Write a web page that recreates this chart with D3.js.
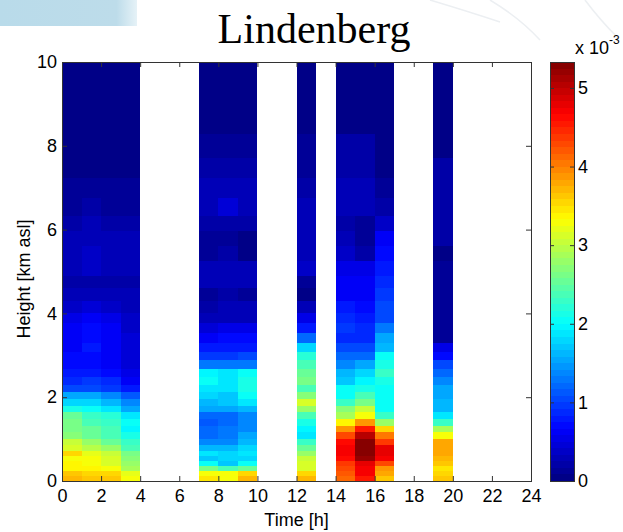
<!DOCTYPE html>
<html>
<head>
<meta charset="utf-8">
<script src="https://cdn.jsdelivr.net/npm/d3@7"></script>
<style>
  body { margin: 0; background: #fff; }
  svg { display: block; }
</style>
</head>
<body>
<div class="svg-container"></div>
<script>
// hour bins that have data (each 1 h wide)
const hours = [0, 1, 2, 3, 7, 8, 9, 12, 14, 15, 16, 19];

// height bin edges [km asl]
const levels = [0, 0.12, 0.24, 0.36, 0.48, 0.6, 0.72, 0.86, 1.0, 1.16,
  1.32, 1.48, 1.64, 1.8, 1.96, 2.12, 2.3, 2.48, 2.68, 2.88,
  3.08, 3.3, 3.54, 3.78, 4.02, 4.3, 4.6, 4.9, 5.25, 5.6,
  5.96, 6.32, 6.76, 7.22, 7.72, 8.28, 8.86, 9.44, 10];

// profiles, bottom to top, units of 1e-3
const h00 = [3.7, 3.6, 3.4, 3.35, 3.3, 3.55, 3.1, 3.0, 2.7, 2.6, 2.65, 2.5, 2.1, 1.8, 1.5, 1.0, 0.9, 0.75, 0.7, 0.68, 0.65, 0.62, 0.6, 0.5, 0.4, 0.25, 0.2, 0.32, 0.3, 0.28, 0.2, 0.15, 0.1, 0.05, 0.05, 0.05, 0.05, 0.05];
const h01 = [3.65, 3.55, 3.4, 3.25, 3.3, 3.2, 2.95, 2.8, 2.55, 2.5, 2.4, 2.3, 2.0, 1.75, 1.5, 1.05, 0.95, 0.8, 0.72, 0.7, 0.8, 0.72, 0.7, 0.6, 0.45, 0.25, 0.2, 0.35, 0.36, 0.3, 0.25, 0.18, 0.1, 0.05, 0.05, 0.05, 0.05, 0.05];
const h02 = [3.6, 3.5, 3.3, 3.15, 3.1, 3.0, 2.75, 2.55, 2.4, 2.35, 2.3, 2.2, 1.85, 1.65, 1.4, 0.95, 0.85, 0.7, 0.6, 0.6, 0.65, 0.6, 0.6, 0.5, 0.4, 0.25, 0.2, 0.32, 0.3, 0.28, 0.2, 0.15, 0.1, 0.05, 0.05, 0.05, 0.05, 0.05];
const h03 = [3.3, 3.2, 2.9, 2.8, 2.7, 2.6, 2.4, 2.3, 2.1, 1.95, 2.05, 1.9, 1.55, 1.35, 1.1, 0.75, 0.65, 0.5, 0.45, 0.45, 0.45, 0.42, 0.4, 0.35, 0.3, 0.25, 0.2, 0.3, 0.3, 0.28, 0.2, 0.15, 0.1, 0.05, 0.05, 0.05, 0.05, 0.05];
const h07 = [3.45, 3.3, 2.6, 2.0, 1.7, 1.85, 1.6, 1.4, 1.2, 1.2, 1.15, 1.2, 1.5, 1.6, 1.75, 1.9, 2.0, 1.95, 1.25, 0.95, 0.75, 0.65, 0.45, 0.25, 0.2, 0.12, 0.3, 0.3, 0.12, 0.12, 0.2, 0.33, 0.3, 0.22, 0.12, 0.05, 0.05, 0.05];
const h08 = [3.3, 3.3, 2.4, 1.7, 1.75, 1.8, 1.65, 1.4, 1.25, 1.25, 1.2, 1.2, 1.5, 1.7, 1.7, 1.85, 1.85, 1.85, 1.25, 0.95, 0.75, 0.7, 0.55, 0.25, 0.25, 0.2, 0.3, 0.3, 0.2, 0.15, 0.2, 0.42, 0.3, 0.22, 0.12, 0.05, 0.05, 0.05];
const h09 = [3.7, 3.5, 2.5, 2.0, 1.8, 1.9, 1.8, 1.6, 1.5, 1.35, 1.4, 1.4, 1.65, 1.85, 2.0, 2.1, 2.1, 2.05, 1.3, 1.0, 0.75, 0.7, 0.55, 0.25, 0.25, 0.12, 0.3, 0.25, 0.08, 0.05, 0.2, 0.33, 0.3, 0.22, 0.12, 0.05, 0.05, 0.05];
const h12 = [3.7, 3.5, 3.1, 3.1, 3.0, 2.75, 2.55, 2.3, 1.9, 1.95, 2.1, 2.35, 2.75, 3.1, 2.7, 2.35, 2.65, 2.5, 2.35, 2.2, 1.8, 1.2, 0.75, 0.5, 0.3, 0.08, 0.1, 0.35, 0.33, 0.3, 0.28, 0.25, 0.2, 0.15, 0.1, 0.05, 0.05, 0.05];
const h14 = [4.15, 4.2, 4.25, 4.4, 4.6, 4.7, 4.7, 4.65, 4.3, 3.9, 3.4, 2.9, 2.7, 2.3, 2.05, 2.0, 1.7, 1.6, 1.4, 1.2, 1.05, 0.9, 0.95, 0.85, 0.75, 0.65, 0.6, 0.5, 0.35, 0.25, 0.22, 0.3, 0.28, 0.2, 0.18, 0.05, 0.05, 0.05];
const h15 = [4.55, 4.7, 4.7, 4.8, 5.2, 5.3, 5.35, 5.3, 5.0, 4.5, 3.9, 3.25, 3.0, 2.6, 2.35, 2.15, 1.95, 1.75, 1.55, 1.2, 1.05, 0.85, 0.9, 0.8, 0.7, 0.65, 0.6, 0.5, 0.22, 0.15, 0.1, 0.3, 0.28, 0.2, 0.18, 0.05, 0.05, 0.05];
const h16 = [3.6, 3.8, 3.9, 4.3, 4.7, 4.75, 4.75, 4.4, 4.0, 3.5, 2.8, 2.3, 2.05, 2.0, 2.0, 2.0, 2.1, 2.3, 2.1, 2.0, 1.65, 1.55, 1.25, 1.05, 1.0, 0.95, 0.9, 0.8, 0.7, 0.6, 0.4, 0.2, 0.12, 0.08, 0.08, 0.05, 0.05, 0.05];
const h19 = [3.65, 3.5, 3.45, 3.6, 3.7, 3.75, 3.75, 3.75, 3.3, 2.9, 2.3, 1.9, 1.6, 1.65, 1.5, 1.5, 1.35, 1.2, 1.0, 0.7, 0.5, 0.15, 0.1, 0.12, 0.1, 0.12, 0.1, 0.1, 0.08, 0.18, 0.18, 0.18, 0.18, 0.18, 0.05, 0.05, 0.05, 0.05];
const profiles = [h00, h01, h02, h03, h07, h08, h09, h12, h14, h15, h16, h19];

const xTicks = [0, 2, 4, 6, 8, 10, 12, 14, 16, 18, 20, 22, 24];
const yTicks = [0, 2, 4, 6, 8, 10];
const cTicks = [0, 1, 2, 3, 4, 5];
const cMax = 5.33;
const nColors = 64;

const font = "'Liberation Sans', Arial, sans-serif";

const x = d3.scaleLinear([0, 24], [62, 531]);
const y = d3.scaleLinear([0, 10], [481, 62]);
const cy = d3.scaleLinear([0, cMax], [481, 62]);

// matlab jet
function jet(t) {
  const f = (v) => Math.max(0, Math.min(1, v));
  const r = f(1.5 - Math.abs(4 * t - 3));
  const g = f(1.5 - Math.abs(4 * t - 2));
  const b = f(1.5 - Math.abs(4 * t - 1));
  return d3.rgb(r * 255, g * 255, b * 255).formatHex();
}
const colorIndex = (v) => Math.max(0, Math.min(nColors - 1, Math.floor((v / cMax) * nColors)));
const colorOf = (v) => jet((colorIndex(v) + 0.5) / nColors);

const svg = d3.select("div.svg-container")
  .append("svg")
  .attr("width", 623)
  .attr("height", 532)
  .style("background-color", "#fff");

// slide decoration behind the figure
const defs = svg.append("defs");
const grad = defs.append("linearGradient").attr("id", "band");
grad.append("stop").attr("offset", "0%").attr("stop-color", "#b9dbea");
grad.append("stop").attr("offset", "85%").attr("stop-color", "#bddcea");
grad.append("stop").attr("offset", "100%").attr("stop-color", "#e6f2f7");
svg.append("rect")
  .attr("x", 0).attr("y", 0)
  .attr("width", 137).attr("height", 26)
  .attr("fill", "url(#band)");
svg.append("g")
  .attr("fill", "none")
  .attr("stroke", "#eceff2")
  .attr("stroke-width", 1.5)
  .selectAll("path")
  .data(["M490,0 Q520,18 540,40", "M585,0 Q600,20 618,38", "M430,0 Q470,12 500,22"])
  .join("path")
  .attr("d", (d) => d);

svg.append("text")
  .attr("x", 314)
  .attr("y", 43)
  .attr("text-anchor", "middle")
  .attr("font-family", "'Liberation Serif', 'Times New Roman', serif")
  .attr("font-size", 42)
  .text("Lindenberg");

// heat map cells
const cells = [];
hours.forEach((h, i) => {
  profiles[i].forEach((v, j) => {
    cells.push({ h, lo: levels[j], hi: levels[j + 1], v });
  });
});

svg.append("g")
  .attr("shape-rendering", "crispEdges")
  .selectAll("rect")
  .data(cells)
  .join("rect")
  .attr("x", (d) => x(d.h))
  .attr("width", (d) => x(d.h + 1) - x(d.h))
  .attr("y", (d) => y(d.hi))
  .attr("height", (d) => y(d.lo) - y(d.hi))
  .attr("fill", (d) => colorOf(d.v));

// axes
const styleAxis = (g) => {
  g.select(".domain").remove();
  g.selectAll("line").attr("stroke", "#333");
  g.selectAll("text").attr("font-family", font).attr("font-size", 18).attr("fill", "#000");
};

svg.append("g")
  .attr("transform", "translate(0,481)")
  .call(d3.axisBottom(x).tickValues(xTicks).tickSize(-5).tickPadding(8).tickFormat(d3.format("d")))
  .call(styleAxis);
svg.append("g")
  .attr("transform", "translate(0,62)")
  .call(d3.axisTop(x).tickValues(xTicks).tickSize(-5).tickFormat(""))
  .call(styleAxis);
svg.append("g")
  .attr("transform", "translate(62,0)")
  .call(d3.axisLeft(y).tickValues(yTicks).tickSize(-5).tickPadding(5).tickFormat(d3.format("d")))
  .call(styleAxis);
svg.append("g")
  .attr("transform", "translate(531,0)")
  .call(d3.axisRight(y).tickValues(yTicks).tickSize(-5).tickFormat(""))
  .call(styleAxis);

svg.append("rect")
  .attr("x", 62).attr("y", 62)
  .attr("width", 531 - 62).attr("height", 481 - 62)
  .attr("fill", "none")
  .attr("stroke", "#333")
  .attr("shape-rendering", "crispEdges");

svg.append("text")
  .attr("x", (62 + 531) / 2)
  .attr("y", 526)
  .attr("text-anchor", "middle")
  .attr("font-family", font)
  .attr("font-size", 18)
  .text("Time [h]");

svg.append("text")
  .attr("transform", "translate(30,279) rotate(-90)")
  .attr("text-anchor", "middle")
  .attr("font-family", font)
  .attr("font-size", 18)
  .text("Height [km asl]");

// colorbar
const cb = { x: 550, w: 24 };
svg.append("g")
  .attr("shape-rendering", "crispEdges")
  .selectAll("rect")
  .data(d3.range(nColors))
  .join("rect")
  .attr("x", cb.x)
  .attr("width", cb.w)
  .attr("y", (i) => cy(((i + 1) * cMax) / nColors))
  .attr("height", (i) => cy((i * cMax) / nColors) - cy(((i + 1) * cMax) / nColors))
  .attr("fill", (i) => jet((i + 0.5) / nColors));

svg.append("g")
  .attr("transform", `translate(${cb.x + cb.w},0)`)
  .call(d3.axisRight(cy).tickValues(cTicks).tickSize(-4).tickPadding(4).tickFormat(d3.format("d")))
  .call(styleAxis);
svg.append("g")
  .attr("transform", `translate(${cb.x},0)`)
  .call(d3.axisLeft(cy).tickValues(cTicks).tickSize(-4).tickFormat(""))
  .call(styleAxis);

svg.append("rect")
  .attr("x", cb.x).attr("y", 62)
  .attr("width", cb.w).attr("height", 481 - 62)
  .attr("fill", "none")
  .attr("stroke", "#333")
  .attr("shape-rendering", "crispEdges");

const expo = svg.append("text")
  .attr("x", 575)
  .attr("y", 54)
  .attr("font-family", font)
  .attr("font-size", 18);
expo.append("tspan").text("x 10");
expo.append("tspan").attr("dy", -10).attr("font-size", 12).text("-3");
</script>
</body>
</html>
